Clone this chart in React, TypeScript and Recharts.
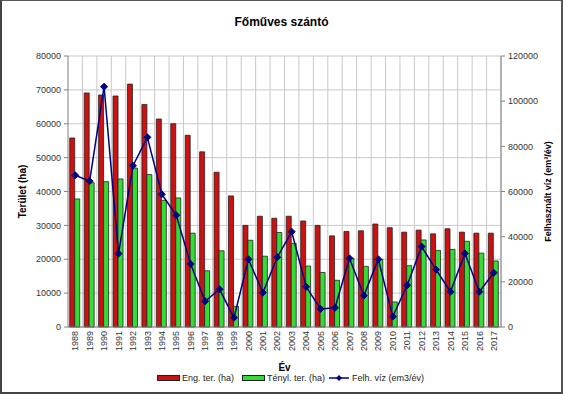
import React from "react";
import {
  ComposedChart,
  Bar,
  Line,
  XAxis,
  YAxis,
  CartesianGrid,
  Legend,
} from "recharts";

const years = [
  "1988", "1989", "1990", "1991", "1992", "1993", "1994", "1995", "1996", "1997",
  "1998", "1999", "2000", "2001", "2002", "2003", "2004", "2005", "2006", "2007",
  "2008", "2009", "2010", "2011", "2012", "2013", "2014", "2015", "2016", "2017",
];

// Eng. ter. (ha)
const engTer = [
  55800, 69100, 68500, 68200, 71700, 65700, 61400, 60000, 56600, 51700,
  45700, 38700, 30000, 32700, 32100, 32700, 31300, 30000, 26900, 28200,
  28400, 30400, 29300, 28000, 28600, 27500, 29000, 28000, 27700, 27700,
];

// Tényl. ter. (ha)
const tenylTer = [
  37800, 42600, 42900, 43700, 46900, 45000, 37400, 38100, 27700, 16600,
  22500, 6100, 25600, 20900, 27900, 24700, 18000, 16100, 13800, 20300,
  17900, 20000, 7400, 18100, 25700, 22600, 22900, 25300, 21800, 19500,
];

// Felh. víz (em3/év)
const felhViz = [
  67200, 64600, 106400, 32500, 71400, 84000, 58800, 49500, 27900, 11400,
  16700, 4100, 30000, 15200, 30900, 42200, 17800, 8000, 8500, 30400,
  13900, 30000, 4600, 18500, 35600, 25400, 15600, 32600, 15600, 24000,
];

const leftTicks = [0, 10000, 20000, 30000, 40000, 50000, 60000, 70000, 80000];
const rightTicks = [0, 20000, 40000, 60000, 80000, 100000, 120000];

const data = years.map((ev, i) => ({
  ev,
  eng: engTer[i],
  teny: tenylTer[i],
  viz: felhViz[i],
}));

const FONT = "'Liberation Sans', Arial, sans-serif";
const RED = "#cc1111";
const GREEN = "#33dd33";
const NAVY = "#000080";

const YearTick = ({ x, y, payload }: any) => (
  <g transform={`translate(${x},${y})`}>
    <text
      transform="rotate(-90)"
      textAnchor="end"
      dy="0.35em"
      fontSize={9}
      fontFamily={FONT}
      fill="#333"
    >
      {payload.value}
    </text>
  </g>
);

const Diamond = ({ cx, cy }: any) => {
  if (cx == null || cy == null) return null;
  const s = 3.5;
  return (
    <polygon
      points={`${cx},${cy - s} ${cx + s},${cy} ${cx},${cy + s} ${cx - s},${cy}`}
      fill={NAVY}
      stroke={NAVY}
    />
  );
};

const LegendContent = () => (
  <div
    style={{
      display: "flex",
      justifyContent: "center",
      alignItems: "center",
      fontFamily: FONT,
      fontSize: 9,
      color: "#222",
      paddingLeft: 18,
    }}
  >
    <span style={{ display: "inline-block", width: 21, height: 4, background: RED, border: "1px solid #222" }} />
    <span style={{ marginLeft: 2, marginRight: 8 }}>Eng. ter. (ha)</span>
    <span style={{ display: "inline-block", width: 21, height: 4, background: GREEN, border: "1px solid #222" }} />
    <span style={{ marginLeft: 2, marginRight: 4 }}>Tényl. ter. (ha)</span>
    <svg width={20} height={8}>
      <line x1={0} y1={4} x2={20} y2={4} stroke={NAVY} strokeWidth={1.5} />
      <polygon points="10,1 13,4 10,7 7,4" fill={NAVY} />
    </svg>
    <span style={{ marginLeft: 3 }}>Felh. víz (em3/év)</span>
  </div>
);

const App: React.FC = () => {
  return (
    <div style={{ position: "absolute", left: 0, top: 0, width: 563, height: 394, background: "#fff" }}>
      <div
        style={{
          position: "absolute",
          top: 15,
          left: 0,
          width: 563,
          textAlign: "center",
          fontFamily: FONT,
          fontWeight: "bold",
          fontSize: 12,
        }}
      >
        Főműves szántó
      </div>
      <ComposedChart
        width={563}
        height={394}
        data={data}
        margin={{ top: 56, right: 0, bottom: 7, left: 0 }}
        barCategoryGap="12%"
        barGap={0}
      >
        <CartesianGrid
          yAxisId="left"
          stroke="#c8c8c8"
          verticalCoordinatesGenerator={({ offset }: any) =>
            years.map((_, i) => offset.left + ((i + 1) * offset.width) / years.length)
          }
        />
        <XAxis
          dataKey="ev"
          interval={0}
          tick={<YearTick />}
          tickLine={false}
          tickSize={0}
          tickMargin={4}
          axisLine={{ stroke: "#808080" }}
          height={46}
          label={{
            value: "Év",
            position: "insideBottom",
            offset: 2,
            fontSize: 10,
            fontWeight: "bold",
            fontFamily: FONT,
            fill: "#000",
          }}
        />
        <YAxis
          yAxisId="left"
          domain={[0, 80000]}
          ticks={leftTicks}
          width={68}
          tick={{ fontSize: 9, fill: "#333", fontFamily: FONT }}
          tickSize={4}
          tickMargin={3}
          tickLine={{ stroke: "#808080" }}
          axisLine={{ stroke: "#808080" }}
          label={{
            content: ({ viewBox }: any) => {
              const x = viewBox.x + 26;
              const y = viewBox.y + viewBox.height / 2;
              return (
                <text
                  x={x}
                  y={y}
                  transform={`rotate(-90, ${x}, ${y})`}
                  textAnchor="middle"
                  fontSize={10}
                  fontWeight="bold"
                  fontFamily={FONT}
                  fill="#000"
                >
                  Terület (ha)
                </text>
              );
            },
          }}
        />
        <YAxis
          yAxisId="right"
          orientation="right"
          domain={[0, 120000]}
          ticks={rightTicks}
          width={62}
          tick={{ fontSize: 9, fill: "#333", fontFamily: FONT }}
          tickSize={4}
          tickMargin={3}
          tickLine={{ stroke: "#808080" }}
          axisLine={{ stroke: "#808080" }}
          label={{
            content: ({ viewBox }: any) => {
              const x = viewBox.x + 50;
              const y = viewBox.y + viewBox.height / 2;
              return (
                <text
                  x={x}
                  y={y}
                  transform={`rotate(-90, ${x}, ${y})`}
                  textAnchor="middle"
                  fontSize={9}
                  fontWeight="bold"
                  fontFamily={FONT}
                  fill="#000"
                >
                  Felhasznált víz (em³/év)
                </text>
              );
            },
          }}
        />
        <Legend verticalAlign="bottom" content={<LegendContent />} wrapperStyle={{ height: 14 }} />
        <Bar
          yAxisId="left"
          dataKey="eng"
          name="Eng. ter. (ha)"
          fill={RED}
          stroke="#222"
          strokeWidth={0.8}
          isAnimationActive={false}
        />
        <Bar
          yAxisId="left"
          dataKey="teny"
          name="Tényl. ter. (ha)"
          fill={GREEN}
          stroke="#222"
          strokeWidth={0.8}
          isAnimationActive={false}
        />
        <Line
          yAxisId="right"
          dataKey="viz"
          name="Felh. víz (em3/év)"
          type="linear"
          stroke={NAVY}
          strokeWidth={1.5}
          dot={<Diamond />}
          activeDot={false}
          isAnimationActive={false}
        />
      </ComposedChart>
      <div
        style={{
          position: "absolute",
          inset: 0,
          borderTop: "1px solid #555",
          borderRight: "2px solid #555",
          borderBottom: "2px solid #444",
          borderLeft: "2px solid #444",
          pointerEvents: "none",
        }}
      />
    </div>
  );
};

export default App;
